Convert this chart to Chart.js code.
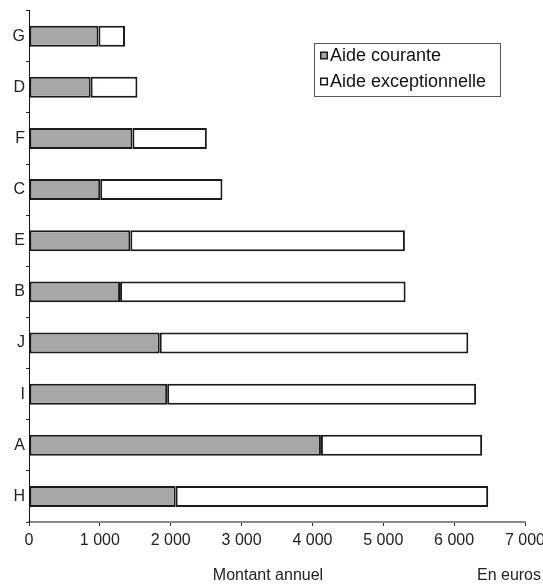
<!DOCTYPE html>
<html>
<head>
<meta charset="utf-8">
<script src="https://cdn.jsdelivr.net/npm/chart.js@4/dist/chart.umd.min.js"></script>
<style>
  html, body { margin: 0; padding: 0; background: #ffffff; }
  #wrap { width: 543px; height: 588px; position: relative; }
</style>
</head>
<body>
<div id="wrap"><canvas id="c" width="543" height="588"></canvas></div>
<script>
// Bénéficiaires, du haut vers le bas
const categories = ['G', 'D', 'F', 'C', 'E', 'B', 'J', 'I', 'A', 'H'];
// Montants annuels en euros
const aideCourante = [980, 870, 1460, 1005, 1430, 1285, 1845, 1950, 4120, 2070];
const aideExceptionnelle = [375, 660, 1050, 1725, 3875, 4030, 4355, 4360, 2275, 4410];
const seriesNames = ['Aide courante', 'Aide exceptionnelle'];
const xTickValues = [0, 1000, 2000, 3000, 4000, 5000, 6000, 7000];
const axisTitle = 'Montant annuel';
const unitLabel = 'En euros';

const FONT = "'Liberation Sans', Arial, Helvetica, sans-serif";
const INK = '#1c1a1b';
const GREY = '#a6a7a9';

function fmt(v) {
  return String(v).replace(/\B(?=(\d{3})+(?!\d))/g, ' ');
}

// Légende encadrée dans la zone de tracé et libellés sous l'axe
const decorations = {
  id: 'decorations',
  afterDraw(chart) {
    const ctx = chart.ctx;
    ctx.save();
    // cadre de légende
    const bx = 314.5, by = 43.5, bw = 186, bh = 53;
    ctx.fillStyle = '#ffffff';
    ctx.fillRect(bx, by, bw, bh);
    ctx.strokeStyle = '#555555';
    ctx.lineWidth = 1;
    ctx.strokeRect(bx, by, bw, bh);
    ctx.font = '18px ' + FONT;
    ctx.textBaseline = 'middle';
    ctx.textAlign = 'left';
    chart.data.datasets.forEach((ds, i) => {
      const cy = 55 + i * 26;
      ctx.fillStyle = INK;
      ctx.fillRect(320, cy - 3.5, 8, 8);
      ctx.fillStyle = ds.backgroundColor;
      ctx.fillRect(321.5, cy - 2, 5, 5);
      ctx.fillStyle = '#111111';
      ctx.fillText(ds.label, 330, cy + 1);
    });
    // titre de l'axe et unité
    ctx.font = '16px ' + FONT;
    ctx.fillStyle = '#222222';
    ctx.textBaseline = 'middle';
    ctx.textAlign = 'center';
    ctx.fillText(axisTitle, 268, 576);
    ctx.textAlign = 'right';
    ctx.fillText(unitLabel, 541, 576);
    ctx.restore();
  }
};

new Chart(document.getElementById('c'), {
  type: 'bar',
  data: {
    labels: categories,
    datasets: [
      {
        label: seriesNames[0],
        data: aideCourante,
        backgroundColor: GREY,
        borderColor: INK,
        borderWidth: 2,
        borderSkipped: false,
        barPercentage: 0.41,
        categoryPercentage: 1.0
      },
      {
        label: seriesNames[1],
        data: aideExceptionnelle,
        backgroundColor: '#ffffff',
        borderColor: INK,
        borderWidth: 2,
        borderSkipped: false,
        barPercentage: 0.41,
        categoryPercentage: 1.0
      }
    ]
  },
  options: {
    indexAxis: 'y',
    responsive: false,
    animation: false,
    devicePixelRatio: 1,
    layout: { padding: { top: 8, left: 0, right: 18, bottom: 36 } },
    plugins: {
      legend: { display: false },
      tooltip: { enabled: false },
      title: { display: false }
    },
    scales: {
      x: {
        stacked: true,
        min: 0,
        max: 7000,
        afterBuildTicks(scale) {
          scale.ticks = xTickValues.map(v => ({ value: v }));
        },
        afterFit(scale) {
          scale.height = 30;
          scale.paddingLeft = 0;
          scale.paddingRight = 0;
        },
        ticks: {
          autoSkip: false,
          maxRotation: 0,
          padding: 5,
          color: '#222222',
          font: { family: FONT, size: 16 },
          callback: v => fmt(v)
        },
        grid: {
          drawOnChartArea: false,
          drawTicks: true,
          tickLength: 4,
          color: '#333333',
          lineWidth: 1
        },
        border: { display: true, color: '#8a8a8a', width: 2 }
      },
      y: {
        stacked: true,
        afterFit(scale) {
          scale.width = 29;
        },
        ticks: {
          padding: 1,
          color: '#222222',
          font: { family: FONT, size: 16 }
        },
        grid: {
          offset: true,
          drawOnChartArea: false,
          drawTicks: true,
          tickLength: 3,
          color: '#222222',
          lineWidth: 1
        },
        border: { display: true, color: '#111111', width: 1 }
      }
    }
  },
  plugins: [decorations]
});
</script>
</body>
</html>
